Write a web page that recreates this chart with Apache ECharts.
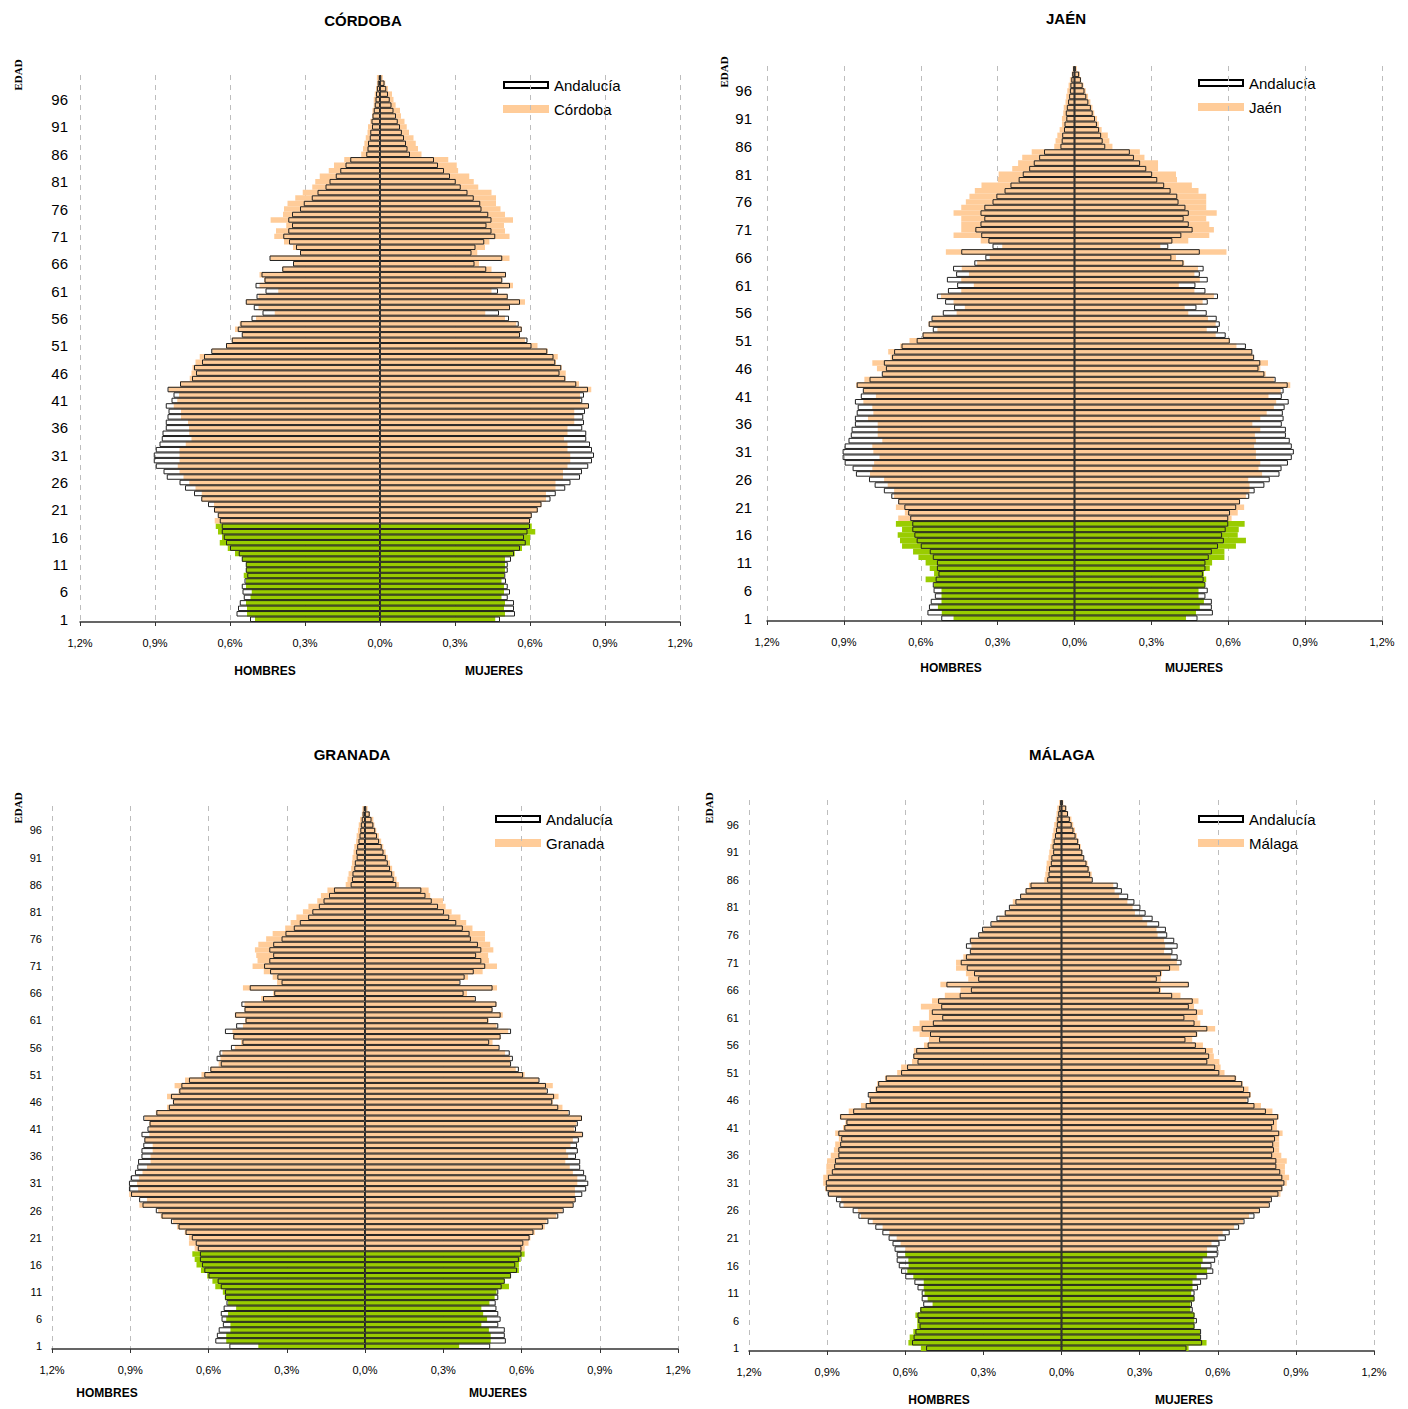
<!DOCTYPE html>
<html><head><meta charset="utf-8">
<script src="https://cdn.jsdelivr.net/npm/echarts@6/dist/echarts.min.js"></script>
<style>html,body{margin:0;padding:0;background:#fff}#c{width:1408px;height:1409px}</style>
</head><body><div id="c"></div>
<script>
// Edades 1..100 (categorías del eje vertical)
const edades = [];
for (let a = 1; a <= 100; a++) edades.push(String(a));

// Andalucía (% sobre total), edades 1..100
const andaluciaHombres = [0.52,0.574,0.568,0.561,0.545,0.55,0.553,0.542,0.531,0.537,
0.537,0.553,0.565,0.6,0.616,0.625,0.633,0.633,0.641,0.649,
0.664,0.688,0.715,0.744,0.78,0.802,0.853,0.866,0.897,0.905,
0.905,0.897,0.882,0.873,0.87,0.857,0.857,0.85,0.846,0.857,
0.834,0.826,0.85,0.8,0.752,0.736,0.744,0.712,0.704,0.675,
0.616,0.593,0.553,0.569,0.558,0.514,0.47,0.505,0.537,0.494,
0.458,0.498,0.462,0.474,0.391,0.348,0.442,0.32,0.336,0.364,
0.387,0.367,0.352,0.367,0.352,0.32,0.305,0.273,0.25,0.218,
0.202,0.177,0.159,0.138,0.119,0.055,0.05,0.048,0.041,0.039,
0.032,0.034,0.03,0.025,0.021,0.018,0.016,0.0125,0.009,0.005];
const andaluciaMujeres = [0.48,0.54,0.536,0.536,0.511,0.52,0.511,0.504,0.501,0.511,
0.511,0.524,0.536,0.56,0.583,0.576,0.59,0.6,0.6,0.607,
0.631,0.646,0.682,0.703,0.741,0.762,0.8,0.808,0.833,0.848,
0.856,0.848,0.84,0.825,0.825,0.809,0.816,0.813,0.82,0.836,
0.809,0.816,0.832,0.785,0.741,0.718,0.725,0.701,0.694,0.669,
0.606,0.59,0.56,0.567,0.555,0.516,0.476,0.52,0.56,0.511,
0.472,0.52,0.489,0.504,0.425,0.378,0.489,0.366,0.382,0.417,
0.461,0.446,0.426,0.446,0.433,0.406,0.401,0.375,0.35,0.323,
0.303,0.28,0.256,0.232,0.216,0.12,0.11,0.104,0.096,0.0875,
0.08,0.071,0.064,0.054,0.046,0.039,0.032,0.025,0.018,0.005];

// Córdoba
const cordobaHombres = [0.5,0.532,0.532,0.536,0.518,0.513,0.536,0.536,0.545,0.536,
0.536,0.552,0.58,0.609,0.641,0.632,0.648,0.657,0.661,0.648,
0.664,0.664,0.713,0.713,0.738,0.763,0.786,0.802,0.809,0.802,
0.802,0.802,0.777,0.754,0.763,0.764,0.768,0.796,0.796,0.825,
0.811,0.804,0.846,0.8,0.761,0.754,0.75,0.738,0.721,0.671,
0.616,0.593,0.552,0.58,0.561,0.496,0.421,0.486,0.536,0.486,
0.407,0.482,0.464,0.482,0.391,0.348,0.439,0.32,0.348,0.384,
0.423,0.416,0.375,0.4375,0.388,0.384,0.37,0.339,0.309,0.271,
0.259,0.241,0.205,0.184,0.143,0.075,0.068,0.0625,0.057,0.05,
0.048,0.039,0.032,0.03,0.025,0.025,0.021,0.016,0.0125,0.0125];
const cordobaMujeres = [0.461,0.5,0.496,0.5,0.486,0.496,0.496,0.486,0.496,0.5,
0.5,0.5,0.539,0.568,0.6,0.6,0.621,0.607,0.6,0.607,
0.632,0.646,0.664,0.664,0.702,0.702,0.732,0.732,0.75,0.761,
0.761,0.75,0.75,0.736,0.75,0.75,0.777,0.777,0.777,0.832,
0.8,0.8,0.845,0.796,0.743,0.743,0.727,0.704,0.711,0.671,
0.63,0.58,0.559,0.568,0.545,0.5,0.421,0.52,0.58,0.511,
0.446,0.532,0.489,0.504,0.446,0.396,0.518,0.389,0.42,0.4375,
0.518,0.5,0.496,0.532,0.5,0.482,0.464,0.464,0.446,0.393,
0.375,0.357,0.3125,0.307,0.273,0.166,0.152,0.143,0.134,0.116,
0.107,0.098,0.084,0.08,0.0625,0.054,0.048,0.032,0.021,0.011];

// Jaén
const jaenHombres = [0.472,0.518,0.533,0.519,0.519,0.519,0.548,0.581,0.548,0.565,
0.581,0.609,0.63,0.673,0.681,0.69,0.673,0.697,0.688,0.662,
0.697,0.688,0.704,0.704,0.729,0.743,0.798,0.789,0.782,0.761,
0.785,0.789,0.75,0.768,0.768,0.768,0.806,0.785,0.789,0.824,
0.775,0.824,0.852,0.82,0.75,0.771,0.789,0.718,0.727,0.68,
0.644,0.593,0.535,0.57,0.555,0.46,0.428,0.472,0.521,0.442,
0.393,0.442,0.412,0.44,0.38,0.331,0.502,0.282,0.366,0.472,
0.442,0.442,0.442,0.472,0.442,0.424,0.41,0.389,0.363,0.299,
0.296,0.243,0.22,0.204,0.167,0.079,0.074,0.067,0.058,0.049,
0.049,0.044,0.042,0.035,0.032,0.028,0.023,0.018,0.011,0.007];
const jaenMujeres = [0.435,0.474,0.489,0.505,0.484,0.484,0.509,0.514,0.505,0.528,
0.537,0.585,0.585,0.63,0.669,0.637,0.641,0.664,0.613,0.637,
0.662,0.646,0.669,0.683,0.683,0.678,0.732,0.718,0.725,0.708,
0.708,0.701,0.708,0.704,0.725,0.694,0.725,0.75,0.778,0.787,
0.757,0.805,0.842,0.778,0.746,0.725,0.755,0.699,0.692,0.632,
0.606,0.551,0.516,0.551,0.521,0.444,0.43,0.5,0.544,0.468,
0.407,0.489,0.468,0.482,0.428,0.396,0.593,0.335,0.444,0.526,
0.544,0.526,0.514,0.555,0.514,0.514,0.514,0.484,0.458,0.4,
0.396,0.326,0.326,0.273,0.255,0.148,0.136,0.13,0.106,0.095,
0.088,0.077,0.07,0.062,0.053,0.044,0.035,0.026,0.021,0.009];

// Granada
const granadaHombres = [0.409,0.532,0.532,0.516,0.516,0.532,0.525,0.494,0.525,0.537,
0.545,0.574,0.585,0.605,0.629,0.646,0.653,0.662,0.653,0.675,
0.675,0.691,0.721,0.737,0.783,0.793,0.865,0.836,0.904,0.87,
0.874,0.867,0.853,0.836,0.822,0.822,0.814,0.814,0.844,0.827,
0.827,0.827,0.844,0.802,0.759,0.737,0.759,0.715,0.73,0.69,
0.627,0.593,0.561,0.554,0.547,0.499,0.475,0.506,0.508,0.468,
0.46,0.499,0.462,0.462,0.398,0.352,0.468,0.337,0.354,0.388,
0.431,0.412,0.417,0.422,0.409,0.379,0.354,0.306,0.285,0.263,
0.238,0.217,0.183,0.169,0.144,0.074,0.067,0.063,0.053,0.05,
0.048,0.044,0.041,0.034,0.032,0.027,0.024,0.019,0.012,0.01];
const granadaMujeres = [0.361,0.482,0.482,0.475,0.446,0.468,0.453,0.446,0.477,0.497,
0.504,0.552,0.535,0.559,0.59,0.59,0.597,0.612,0.612,0.627,
0.634,0.651,0.689,0.696,0.733,0.757,0.797,0.805,0.805,0.805,
0.814,0.814,0.797,0.785,0.768,0.779,0.771,0.788,0.797,0.832,
0.802,0.81,0.832,0.779,0.757,0.72,0.742,0.696,0.72,0.665,
0.612,0.578,0.557,0.557,0.537,0.513,0.489,0.52,0.549,0.504,
0.474,0.528,0.489,0.504,0.42,0.391,0.506,0.361,0.395,0.451,
0.506,0.475,0.472,0.492,0.48,0.46,0.46,0.412,0.388,0.366,
0.332,0.309,0.299,0.25,0.244,0.13,0.121,0.113,0.104,0.096,
0.087,0.079,0.07,0.062,0.053,0.043,0.036,0.032,0.019,0.01];

// Málaga
const malagaHombres = [0.54,0.588,0.583,0.569,0.554,0.554,0.561,0.543,0.495,0.514,
0.526,0.529,0.529,0.569,0.592,0.587,0.588,0.6,0.6,0.618,
0.633,0.661,0.687,0.725,0.77,0.782,0.837,0.846,0.893,0.908,
0.915,0.915,0.903,0.903,0.9,0.886,0.874,0.869,0.855,0.869,
0.839,0.83,0.851,0.817,0.77,0.739,0.739,0.715,0.708,0.678,
0.631,0.616,0.574,0.569,0.567,0.528,0.509,0.545,0.571,0.545,
0.509,0.509,0.54,0.497,0.448,0.388,0.465,0.358,0.367,0.405,
0.405,0.377,0.349,0.346,0.349,0.315,0.299,0.268,0.239,0.218,
0.197,0.187,0.156,0.138,0.125,0.066,0.062,0.059,0.057,0.05,
0.047,0.043,0.038,0.035,0.031,0.028,0.022,0.019,0.016,0.009];
const malagaMujeres = [0.488,0.557,0.533,0.533,0.51,0.51,0.51,0.495,0.495,0.51,
0.498,0.503,0.503,0.519,0.559,0.536,0.542,0.559,0.559,0.576,
0.602,0.619,0.663,0.697,0.72,0.758,0.796,0.803,0.841,0.848,
0.865,0.874,0.858,0.858,0.865,0.844,0.836,0.836,0.836,0.849,
0.827,0.827,0.834,0.81,0.766,0.711,0.727,0.718,0.696,0.671,
0.626,0.611,0.606,0.585,0.581,0.543,0.502,0.522,0.59,0.533,
0.522,0.543,0.509,0.526,0.457,0.382,0.488,0.381,0.386,0.452,
0.443,0.42,0.394,0.398,0.394,0.369,0.365,0.329,0.311,0.282,
0.273,0.253,0.221,0.204,0.199,0.116,0.116,0.107,0.1,0.085,
0.08,0.074,0.066,0.059,0.052,0.045,0.038,0.026,0.019,0.007];

// ---- presentación ----
const FONT = 'Arial, "Liberation Sans", sans-serif';
const NARANJA = '#FFCC99', VERDE = '#99CC00';
const paneles = [
  {nombre:'Córdoba', titulo:'CÓRDOBA', h:cordobaHombres, m:cordobaMujeres,
   grid:{left:80, top:75, width:600, height:547}, yFont:15, yMargin:12,
   tit:[363,20], hom:[265,671], muj:[494,671], edad:[18,75], ley:[504,85]},
  {nombre:'Jaén', titulo:'JAÉN', h:jaenHombres, m:jaenMujeres,
   grid:{left:767, top:66, width:615, height:555}, yFont:15, yMargin:15,
   tit:[1066,18], hom:[951,668], muj:[1194,668], edad:[724,72], ley:[1199,83]},
  {nombre:'Granada', titulo:'GRANADA', h:granadaHombres, m:granadaMujeres,
   grid:{left:52, top:806, width:626, height:543}, yFont:11, yMargin:10,
   tit:[352,754], hom:[107,1393], muj:[498,1393], edad:[18,808], ley:[496,819]},
  {nombre:'Málaga', titulo:'MÁLAGA', h:malagaHombres, m:malagaMujeres,
   grid:{left:749, top:800, width:625, height:551}, yFont:11, yMargin:10,
   tit:[1062,754], hom:[939,1400], muj:[1184,1400], edad:[709,808], ley:[1199,819]}
];

const grids = [], xAxes = [], yAxes = [], series = [], graphic = [];
const fmt = v => Math.abs(v).toFixed(1).replace('.', ',') + '%';
const txt = (x, y, text, font, align, opts) => Object.assign({
  type:'text', x:x, y:y, silent:true,
  style:{text:text, font:font, fill:'#000', textAlign:align || 'center', textVerticalAlign:'middle', align:align || 'center', verticalAlign:'middle'}
}, opts || {});

paneles.forEach((p, i) => {
  grids.push(Object.assign({containLabel:false}, p.grid));
  xAxes.push({
    type:'value', gridIndex:i, min:-1.2, max:1.2, interval:0.3,
    axisLine:{show:true, onZero:false, lineStyle:{color:'#333', width:1.5}},
    axisTick:{show:true, length:4, lineStyle:{color:'#333'}},
    axisLabel:{formatter:fmt, fontSize:11, fontFamily:FONT, color:'#000', margin:15},
    splitLine:{show:true, lineStyle:{color:'#bdbdbd', type:[5,5], width:1}}
  });
  yAxes.push({
    type:'category', gridIndex:i, data:edades,
    axisLine:{show:false}, axisTick:{show:false},
    axisLabel:{interval:4, fontSize:p.yFont, fontFamily:FONT, color:'#000', margin:p.yMargin},
    splitLine:{show:false}
  });
  const colorFn = prm => (prm.dataIndex < 18 ? VERDE : NARANJA);
  const base = {type:'bar', xAxisIndex:i, yAxisIndex:i, barWidth:'100%', barGap:'-100%', silent:true, animation:false};
  series.push(Object.assign({}, base, {name:p.nombre, data:p.h.map(v => -v), itemStyle:{color:colorFn}}));
  series.push(Object.assign({}, base, {name:p.nombre, data:p.m.slice(), itemStyle:{color:colorFn}}));
  const outline = {color:'rgba(255,255,255,0)', borderColor:'#222', borderWidth:1};
  series.push(Object.assign({}, base, {name:'Andalucía', data:andaluciaHombres.map(v => -v), itemStyle:outline}));
  series.push(Object.assign({}, base, {name:'Andalucía', data:andaluciaMujeres.slice(), itemStyle:outline,
    markLine:{silent:true, symbol:['none','none'], label:{show:false}, animation:false,
      lineStyle:{color:'#333', width:1, type:'solid'}, data:[{xAxis:0}]}}));

  graphic.push(txt(p.tit[0], p.tit[1], p.titulo, 'bold 15px ' + FONT));
  graphic.push(txt(p.hom[0], p.hom[1], 'HOMBRES', 'bold 12px ' + FONT));
  graphic.push(txt(p.muj[0], p.muj[1], 'MUJERES', 'bold 12px ' + FONT));
  graphic.push(txt(p.edad[0], p.edad[1], 'EDAD', 'bold 11px "Liberation Serif", "Times New Roman", serif', 'center', {rotation:Math.PI/2}));
  const lx = p.ley[0], ly = p.ley[1];
  graphic.push({type:'rect', silent:true, shape:{x:lx, y:ly-3, width:44, height:6},
    style:{fill:'#fff', stroke:'#000', lineWidth:2}});
  graphic.push({type:'rect', silent:true, shape:{x:lx-1, y:ly+20, width:46, height:8},
    style:{fill:NARANJA}});
  graphic.push(txt(lx+50, ly, 'Andalucía', '15px ' + FONT, 'left'));
  graphic.push(txt(lx+50, ly+24, p.nombre, '15px ' + FONT, 'left'));
});

const chart = echarts.init(document.getElementById('c'), null, {renderer:'svg'});
chart.setOption({
  animation:false, backgroundColor:'#fff',
  grid:grids, xAxis:xAxes, yAxis:yAxes, series:series, graphic:graphic
});
</script></body></html>
